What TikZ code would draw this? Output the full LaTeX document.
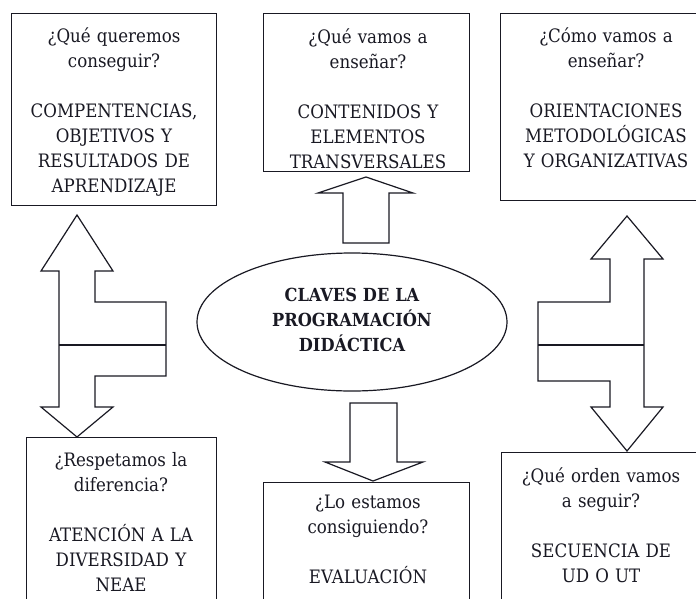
\documentclass[tikz,border=0pt]{standalone}
\usepackage{fontspec}
\setmainfont{DejaVu Serif}[FakeStretch=0.9]
\usetikzlibrary{shapes.geometric}
\definecolor{ink}{RGB}{25,25,35}
\begin{document}
\begin{tikzpicture}[x=1pt,y=-1pt,
  box/.style={draw=ink, line width=1.3pt, inner sep=0pt, anchor=north west},
  blk/.style={draw=ink, line width=1.2pt, fill=white, line join=miter},
  txt/.style={align=center, text width=210pt, font=\fontsize{18.5}{25}\selectfont, text=ink, inner sep=0pt, anchor=base},
  keytxt/.style={align=center, text width=210pt, font=\bfseries\fontsize{18}{25}\selectfont, text=ink, inner sep=0pt, anchor=base},
]
\useasboundingbox (0,0) rectangle (696,598);
\fill[white] (0,0) rectangle (696,598);

% boxes
\node[box, minimum width=205pt, minimum height=192pt] (b1) at (11,13) {};
\node[box, minimum width=206pt, minimum height=158pt] (b2) at (263,13) {};
\node[box, minimum width=210pt, minimum height=187pt] (b3) at (500,13) {};
\node[box, minimum width=190pt, minimum height=180pt] (b4) at (26,437) {};
\node[box, minimum width=206pt, minimum height=140pt] (b5) at (263,482) {};
\node[box, minimum width=210pt, minimum height=170pt] (b6) at (501,452) {};

% texts
\node[txt] (t1) at (114,42.5) {¿Qué queremos\\conseguir?\\[25pt]COMPENTENCIAS,\\OBJETIVOS Y\\RESULTADOS DE\\APRENDIZAJE};
\node[txt] (t2) at (368,43) {¿Qué vamos a\\enseñar?\\[25pt]CONTENIDOS Y\\ELEMENTOS\\TRANSVERSALES};
\node[txt] (t3) at (606,42) {¿Cómo vamos a\\enseñar?\\[25pt]ORIENTACIONES\\METODOLÓGICAS\\Y ORGANIZATIVAS};
\node[txt] (t4) at (121,466) {¿Respetamos la\\diferencia?\\[25pt]ATENCIÓN A LA\\DIVERSIDAD Y\\NEAE};
\node[txt] (t5) at (368,508) {¿Lo estamos\\consiguiendo?\\[25pt]EVALUACIÓN};
\node[txt] (t6) at (601,482) {¿Qué orden vamos\\a seguir?\\[25pt]SECUENCIA DE\\UD O UT};

% central ellipse
\node[ellipse, draw=ink, line width=1.2pt, minimum width=310pt, minimum height=138pt, inner sep=0pt] (key) at (352,322) {};
\node[keytxt] (kt) at (352,301) {CLAVES DE LA\\PROGRAMACIÓN\\DIDÁCTICA};

% up arrow (centre to top box)
\draw[blk] (366,177) -- (413,193) -- (389,193) -- (389,243) -- (343,243) -- (343,193) -- (318,193) -- cycle;
% down arrow (centre to bottom box)
\draw[blk] (350,403) -- (397,403) -- (397,462) -- (423,462) -- (373,481) -- (325,462) -- (350,462) -- cycle;

% left double arrow
\draw[blk] (77,215) -- (113,271) -- (95,271) -- (95,302) -- (166,302) -- (166,376) -- (95,376) -- (95,407) -- (113,407) -- (77,437) -- (41,407) -- (59,407) -- (59,271) -- (41,271) -- cycle;
\draw[blk] (59,345) -- (166,345);

% right double arrow
\draw[blk] (627,216) -- (663,259) -- (644,259) -- (644,407) -- (663,407) -- (627,451) -- (591,407) -- (610,407) -- (610,381) -- (538,381) -- (538,302) -- (610,302) -- (610,259) -- (591,259) -- cycle;
\draw[blk] (538,345) -- (644,345);
\end{tikzpicture}
\end{document}
